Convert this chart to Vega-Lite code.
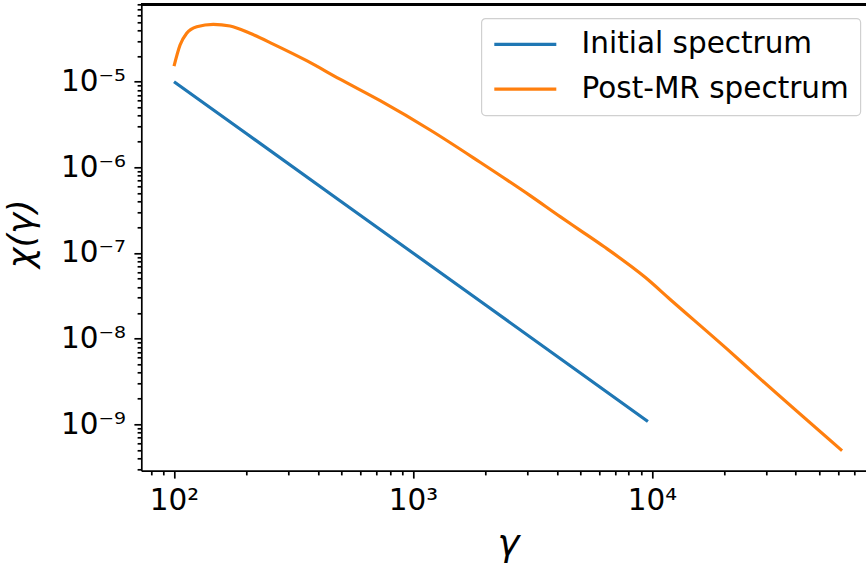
{
  "$schema": "https://vega.github.io/schema/vega-lite/v6.json",
  "width": 725,
  "height": 466.4,
  "autosize": {"type": "none"},
  "padding": {"left": 141.3, "top": 4.3, "right": 0, "bottom": 94.3},
  "background": "white",
  "config": {
    "font": "DejaVu Sans",
    "view": {"stroke": null},
    "axis": {
      "grid": false,
      "domainColor": "black",
      "domainWidth": 1.7,
      "tickColor": "black",
      "tickWidth": 1.7,
      "labelFont": "DejaVu Sans",
      "labelFontSize": 29.5,
      "labelColor": "black",
      "labelFlush": false,
      "labelOverlap": false,
      "titleFont": "DejaVu Sans",
      "titleColor": "black",
      "titleFontWeight": "normal"
    },
    "legend": {"strokeWidth": 1.2}
  },
  "data": {
    "values": [
      {"series": "Initial spectrum", "gamma": 100, "chi": 1e-5},
      {"series": "Initial spectrum", "gamma": 200, "chi": 2.5e-6},
      {"series": "Initial spectrum", "gamma": 500, "chi": 4e-7},
      {"series": "Initial spectrum", "gamma": 1000, "chi": 1e-7},
      {"series": "Initial spectrum", "gamma": 2000, "chi": 2.5e-8},
      {"series": "Initial spectrum", "gamma": 5000, "chi": 4e-9},
      {"series": "Initial spectrum", "gamma": 9620, "chi": 1.08e-9},
      {"series": "Post-MR spectrum", "gamma": 100, "chi": 1.52e-5},
      {"series": "Post-MR spectrum", "gamma": 106, "chi": 2.68e-5},
      {"series": "Post-MR spectrum", "gamma": 113, "chi": 3.67e-5},
      {"series": "Post-MR spectrum", "gamma": 124.5, "chi": 4.38e-5},
      {"series": "Post-MR spectrum", "gamma": 146, "chi": 4.68e-5},
      {"series": "Post-MR spectrum", "gamma": 171.6, "chi": 4.47e-5},
      {"series": "Post-MR spectrum", "gamma": 208, "chi": 3.67e-5},
      {"series": "Post-MR spectrum", "gamma": 260, "chi": 2.75e-5},
      {"series": "Post-MR spectrum", "gamma": 359, "chi": 1.76e-5},
      {"series": "Post-MR spectrum", "gamma": 495, "chi": 1.07e-5},
      {"series": "Post-MR spectrum", "gamma": 729, "chi": 6.0e-6},
      {"series": "Post-MR spectrum", "gamma": 1180, "chi": 2.73e-6},
      {"series": "Post-MR spectrum", "gamma": 1910, "chi": 1.148e-6},
      {"series": "Post-MR spectrum", "gamma": 3094, "chi": 4.68e-7},
      {"series": "Post-MR spectrum", "gamma": 4130, "chi": 2.66e-7},
      {"series": "Post-MR spectrum", "gamma": 5010, "chi": 1.84e-7},
      {"series": "Post-MR spectrum", "gamma": 6270, "chi": 1.197e-7},
      {"series": "Post-MR spectrum", "gamma": 9370, "chi": 5.2e-8},
      {"series": "Post-MR spectrum", "gamma": 11930, "chi": 2.87e-8},
      {"series": "Post-MR spectrum", "gamma": 20600, "chi": 7.59e-9},
      {"series": "Post-MR spectrum", "gamma": 28400, "chi": 3.39e-9},
      {"series": "Post-MR spectrum", "gamma": 62450, "chi": 4.92e-10}
    ]
  },
  "layer": [
    {
      "transform": [{"filter": "datum.series === 'Initial spectrum'"}],
      "mark": {"type": "line", "strokeWidth": 3.2, "clip": true},
      "encoding": {
        "x": {
          "field": "gamma",
          "type": "quantitative",
          "scale": {"type": "log", "domain": [72.96, 78920], "nice": false},
          "axis": {
            "orient": "bottom",
            "values": [100, 1000, 10000],
            "labelExpr": "datum.value < 500 ? '10²' : datum.value < 5000 ? '10³' : '10⁴'",
            "tickSize": 7.4,
            "labelBaseline": "alphabetic",
            "labelPadding": 31.5,
            "title": "γ",
            "titleFontStyle": "italic",
            "titleFontSize": 37,
            "titleAlign": "center",
            "titleBaseline": "alphabetic",
            "titleX": 366.7,
            "titleY": 84
          }
        },
        "y": {
          "field": "chi",
          "type": "quantitative",
          "scale": {"type": "log", "domain": [2.872e-10, 8.011e-5], "nice": false},
          "axis": {
            "orient": "left",
            "values": [1e-9, 1e-8, 1e-7, 1e-6, 1e-5],
            "labelExpr": "datum.value < 5e-9 ? '10⁻⁹' : datum.value < 5e-8 ? '10⁻⁸' : datum.value < 5e-7 ? '10⁻⁷' : datum.value < 5e-6 ? '10⁻⁶' : '10⁻⁵'",
            "tickSize": 7.4,
            "labelPadding": 8.5,
            "title": "χ(γ)",
            "titleFontStyle": "italic",
            "titleFontSize": 35,
            "titleAngle": 270,
            "titleAlign": "center",
            "titleBaseline": "alphabetic",
            "titleX": -109,
            "titleY": 229
          }
        },
        "color": {
          "field": "series",
          "type": "nominal",
          "scale": {"domain": ["Initial spectrum", "Post-MR spectrum"], "range": ["#1f77b4", "#ff7f0e"]},
          "legend": {
            "title": null,
            "orient": "none",
            "legendX": 340,
            "legendY": 14,
            "symbolType": "M-1,0H3.77",
            "symbolSize": 676,
            "symbolStrokeWidth": 3.2,
            "labelFont": "DejaVu Sans",
            "labelFontSize": 29.5,
            "labelColor": "black",
            "labelLimit": 500,
            "labelOffset": 59.3,
            "padding": 11,
            "rowPadding": 14.9,
            "fillColor": "rgba(255,255,255,0.8)",
            "strokeColor": "#d0d0d0",
            "cornerRadius": 4
          }
        }
      }
    },
    {
      "transform": [{"filter": "datum.series === 'Post-MR spectrum'"}],
      "mark": {"type": "line", "strokeWidth": 3.2, "clip": true, "interpolate": "monotone"},
      "encoding": {
        "x": {
          "field": "gamma",
          "type": "quantitative",
          "axis": {
            "orient": "bottom",
            "values": [80, 90, 200, 300, 400, 500, 600, 700, 800, 900, 2000, 3000, 4000, 5000, 6000, 7000, 8000, 9000, 20000, 30000, 40000, 50000, 60000, 70000],
            "tickSize": 4.2,
            "labels": false,
            "domain": false,
            "title": null
          }
        },
        "y": {
          "field": "chi",
          "type": "quantitative",
          "axis": {
            "orient": "left",
            "values": [3e-10, 4e-10, 5e-10, 6e-10, 7e-10, 8e-10, 9e-10, 2e-9, 3e-9, 4e-9, 5e-9, 6e-9, 7e-9, 8e-9, 9e-9, 2e-8, 3e-8, 4e-8, 5e-8, 6e-8, 7e-8, 8e-8, 9e-8, 2e-7, 3e-7, 4e-7, 5e-7, 6e-7, 7e-7, 8e-7, 9e-7, 2e-6, 3e-6, 4e-6, 5e-6, 6e-6, 7e-6, 8e-6, 9e-6, 2e-5, 3e-5, 4e-5, 5e-5, 6e-5, 7e-5, 8e-5],
            "tickSize": 4.2,
            "labels": false,
            "domain": false,
            "title": null
          }
        },
        "color": {"field": "series", "type": "nominal"}
      }
    },
    {
      "mark": {"type": "rule", "color": "black", "strokeWidth": 1.7},
      "encoding": {
        "y": {"datum": 8.011e-5, "type": "quantitative", "axis": null}
      }
    }
  ],
  "resolve": {"axis": {"x": "independent", "y": "independent"}}
}
